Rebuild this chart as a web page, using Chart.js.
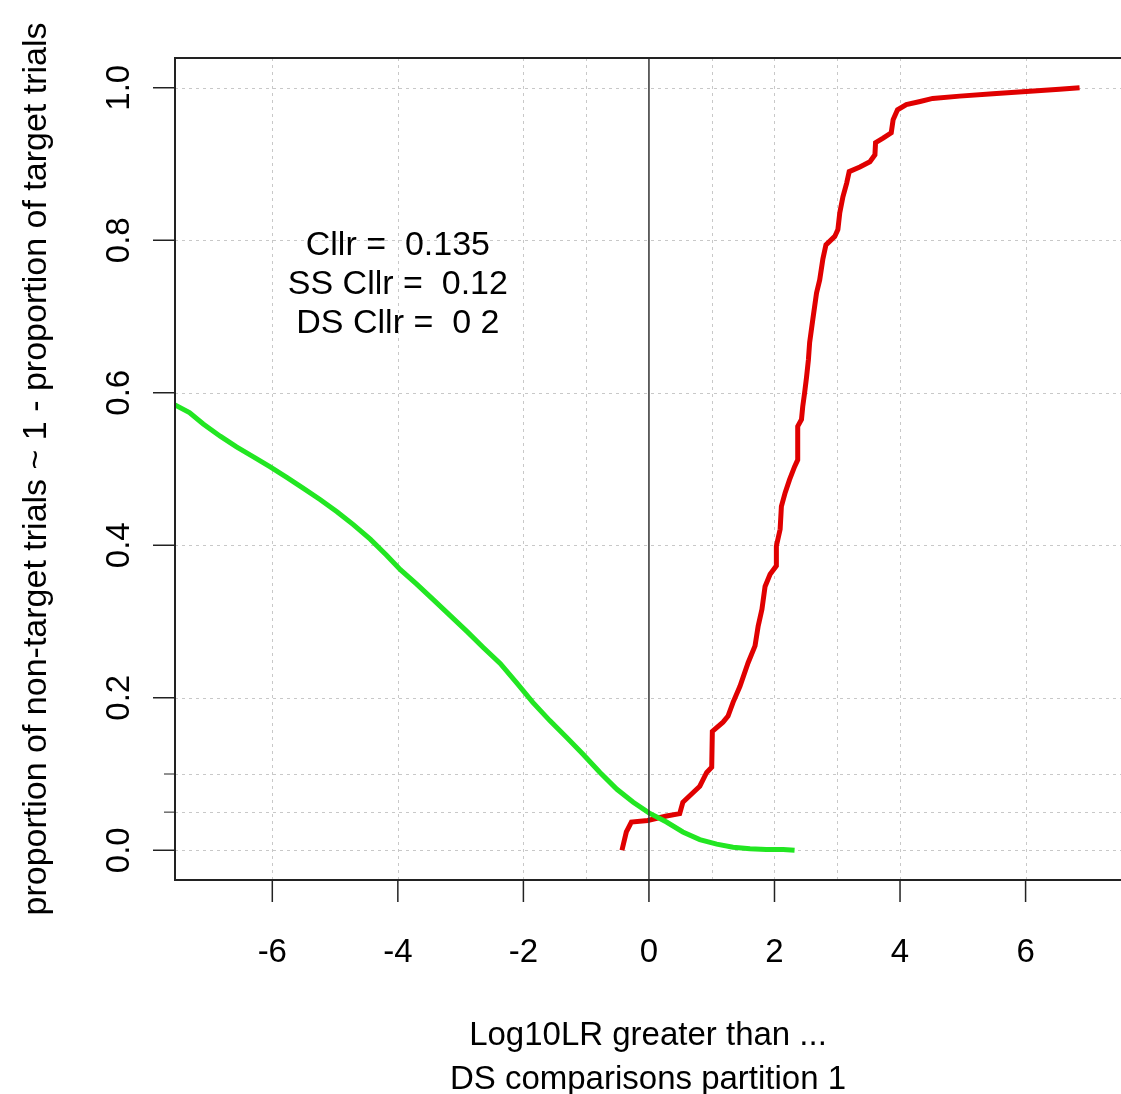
<!DOCTYPE html>
<html>
<head>
<meta charset="utf-8">
<script src="https://cdn.jsdelivr.net/npm/chart.js@4"></script>
<style>
    html, body { margin: 0; padding: 0; background: #fff; }
    #wrap { width: 1121px; height: 1094px; }
</style>
</head>
<body>
<div id="wrap"><canvas id="chart"></canvas></div>
<script>
// target trials (red): 1 - proportion of target trials
const redX = [-0.43, -0.36, -0.28, -0.02, 0.28, 0.49, 0.54, 0.81, 0.92, 1.0, 1.01, 1.18, 1.26, 1.34, 1.45, 1.58, 1.69, 1.74, 1.80, 1.85, 1.93, 2.03, 2.03, 2.09, 2.11, 2.17, 2.24, 2.32, 2.37, 2.37, 2.43, 2.45, 2.48, 2.51, 2.54, 2.56, 2.61, 2.67, 2.72, 2.77, 2.82, 2.96, 3.01, 3.04, 3.09, 3.15, 3.19, 3.36, 3.52, 3.60, 3.61, 3.73, 3.86, 3.89, 3.96, 4.10, 4.32, 4.52, 4.95, 5.48, 6.01, 6.54, 6.86];
const redY = [0.0, 0.024, 0.037, 0.039, 0.045, 0.048, 0.063, 0.084, 0.102, 0.109, 0.156, 0.168, 0.176, 0.194, 0.215, 0.246, 0.268, 0.294, 0.316, 0.346, 0.362, 0.373, 0.399, 0.421, 0.451, 0.469, 0.486, 0.503, 0.512, 0.556, 0.565, 0.582, 0.600, 0.620, 0.643, 0.666, 0.696, 0.731, 0.748, 0.775, 0.794, 0.805, 0.814, 0.836, 0.857, 0.875, 0.890, 0.896, 0.903, 0.912, 0.928, 0.934, 0.941, 0.958, 0.971, 0.978, 0.982, 0.986, 0.989, 0.992, 0.995, 0.998, 1.0];

// non-target trials (green)
const greenX = [-7.55, -7.32, -7.10, -6.83, -6.57, -6.30, -6.04, -5.77, -5.51, -5.24, -4.97, -4.71, -4.44, -4.18, -3.96, -3.70, -3.44, -3.17, -2.90, -2.64, -2.37, -2.11, -1.85, -1.58, -1.31, -1.05, -0.78, -0.51, -0.25, 0.0, 0.28, 0.54, 0.81, 1.08, 1.34, 1.61, 1.87, 2.14, 2.32];
const greenY = [0.584, 0.574, 0.559, 0.543, 0.529, 0.516, 0.503, 0.489, 0.475, 0.460, 0.444, 0.427, 0.408, 0.387, 0.368, 0.349, 0.329, 0.308, 0.287, 0.266, 0.245, 0.220, 0.194, 0.170, 0.148, 0.126, 0.102, 0.080, 0.063, 0.049, 0.037, 0.024, 0.014, 0.008, 0.004, 0.002, 0.001, 0.001, 0.0];

const xTicks = [-6, -4, -2, 0, 2, 4, 6];
const yTicks = [0, 0.2, 0.4, 0.6, 0.8, 1.0];
const yMinorTicks = [0.05, 0.1];
const xGrid = [-6, -4, -2, -1, 0, 1, 2, 3, 4, 6];
const yGrid = [0, 0.05, 0.1, 0.2, 0.4, 0.6, 0.8, 1.0];
const cllrLines = ["Cllr =  0.135", "SS Cllr =  0.12", "DS Cllr =  0 2"];
const cllrPos = { x: -4, y: 0.742 };

const FONT = "'Liberation Sans', Arial, sans-serif";

function toPoints(xs, ys) {
    return xs.map(function (x, i) { return { x: x, y: ys[i] }; });
}

// R-style frame: dotted grid, zero line, box, ticks and the Cllr text
const rFrame = {
    id: "rFrame",
    beforeDatasetsDraw: function (chart) {
        const ctx = chart.ctx;
        const a = chart.chartArea;
        const xs = chart.scales.x;
        const ys = chart.scales.y;
        ctx.save();
        ctx.strokeStyle = "#c8c8c8";
        ctx.lineWidth = 1;
        ctx.setLineDash([3, 4]);
        xGrid.forEach(function (v) {
            if (v === 0) return;
            const px = Math.round(xs.getPixelForValue(v)) + 0.5;
            ctx.beginPath();
            ctx.moveTo(px, a.top);
            ctx.lineTo(px, a.bottom);
            ctx.stroke();
        });
        yGrid.forEach(function (v) {
            const py = Math.round(ys.getPixelForValue(v)) + 0.5;
            ctx.beginPath();
            ctx.moveTo(a.left, py);
            ctx.lineTo(a.right, py);
            ctx.stroke();
        });
        ctx.restore();
    },
    afterDatasetsDraw: function (chart) {
        const ctx = chart.ctx;
        const a = chart.chartArea;
        const xs = chart.scales.x;
        const ys = chart.scales.y;
        ctx.save();
        ctx.strokeStyle = "#333";
        ctx.lineWidth = 1.5;
        const zx = xs.getPixelForValue(0);
        ctx.beginPath();
        ctx.moveTo(zx, a.top);
        ctx.lineTo(zx, a.bottom);
        ctx.stroke();

        // box (right side runs off the picture)
        ctx.strokeStyle = "#222";
        ctx.lineWidth = 2;
        ctx.beginPath();
        ctx.moveTo(a.right, a.top);
        ctx.lineTo(a.left, a.top);
        ctx.lineTo(a.left, a.bottom);
        ctx.lineTo(a.right, a.bottom);
        ctx.stroke();

        ctx.lineWidth = 1.5;
        xTicks.forEach(function (v) {
            const px = xs.getPixelForValue(v);
            ctx.beginPath();
            ctx.moveTo(px, a.bottom);
            ctx.lineTo(px, a.bottom + 22);
            ctx.stroke();
        });
        yTicks.forEach(function (v) {
            const py = ys.getPixelForValue(v);
            ctx.beginPath();
            ctx.moveTo(a.left - 22, py);
            ctx.lineTo(a.left, py);
            ctx.stroke();
        });
        ctx.lineWidth = 1;
        yMinorTicks.forEach(function (v) {
            const py = ys.getPixelForValue(v);
            ctx.beginPath();
            ctx.moveTo(a.left - 11, py);
            ctx.lineTo(a.left, py);
            ctx.stroke();
        });

        ctx.fillStyle = "#000";
        ctx.font = "34px " + FONT;
        ctx.textAlign = "center";
        ctx.textBaseline = "middle";
        const cx = xs.getPixelForValue(cllrPos.x);
        const cy = ys.getPixelForValue(cllrPos.y);
        cllrLines.forEach(function (t, i) {
            ctx.fillText(t, cx, cy + (i - 1) * 39);
        });
        ctx.restore();
    }
};

const chart = new Chart(document.getElementById("chart"), {
    type: "line",
    data: {
        datasets: [
            {
                label: "non-target",
                data: toPoints(greenX, greenY),
                borderColor: "#22e622",
                borderWidth: 5,
                pointRadius: 0,
                tension: 0,
                fill: false,
            },
            {
                label: "target",
                data: toPoints(redX, redY),
                borderColor: "#e00000",
                borderWidth: 5,
                pointRadius: 0,
                tension: 0,
                fill: false,
            },
        ],
    },
    options: {
        responsive: true,
        maintainAspectRatio: false,
        animation: false,
        layout: { padding: { top: 58, right: 0, bottom: 0, left: 0 } },
        plugins: { legend: { display: false }, tooltip: { enabled: false } },
        scales: {
            x: {
                type: "linear",
                min: -7.55,
                max: 7.52,
                afterBuildTicks: function (scale) {
                    scale.ticks = xTicks.map(function (v) { return { value: v }; });
                },
                afterFit: function (scale) { scale.height = 214; },
                grid: { display: false, drawTicks: false },
                border: { display: false },
                ticks: {
                    color: "#000",
                    font: { family: FONT, size: 33 },
                    padding: 53,
                    maxRotation: 0,
                    autoSkip: false,
                },
                title: {
                    display: true,
                    text: ["Log10LR greater than ...", "DS comparisons partition 1"],
                    color: "#000",
                    font: { family: FONT, size: 33, lineHeight: 1.33 },
                    padding: { top: 0, bottom: -8 },
                },
            },
            y: {
                type: "linear",
                min: -0.039,
                max: 1.039,
                afterBuildTicks: function (scale) {
                    scale.ticks = yTicks.map(function (v) { return { value: v }; });
                },
                afterFit: function (scale) { scale.width = 175; },
                grid: { display: false, drawTicks: false },
                border: { display: false },
                ticks: {
                    color: "#000",
                    font: { family: FONT, size: 33 },
                    minRotation: 90,
                    maxRotation: 90,
                    crossAlign: "center",
                    padding: 32,
                    autoSkip: false,
                    callback: function (v) { return v.toFixed(1); },
                },
                title: {
                    display: true,
                    text: "proportion of non-target trials ~ 1 - proportion of target trials",
                    color: "#000",
                    font: { family: FONT, size: 34 },
                    padding: { top: 16, bottom: 0 },
                },
            },
        },
    },
    plugins: [rFrame],
});
</script>
</body>
</html>
